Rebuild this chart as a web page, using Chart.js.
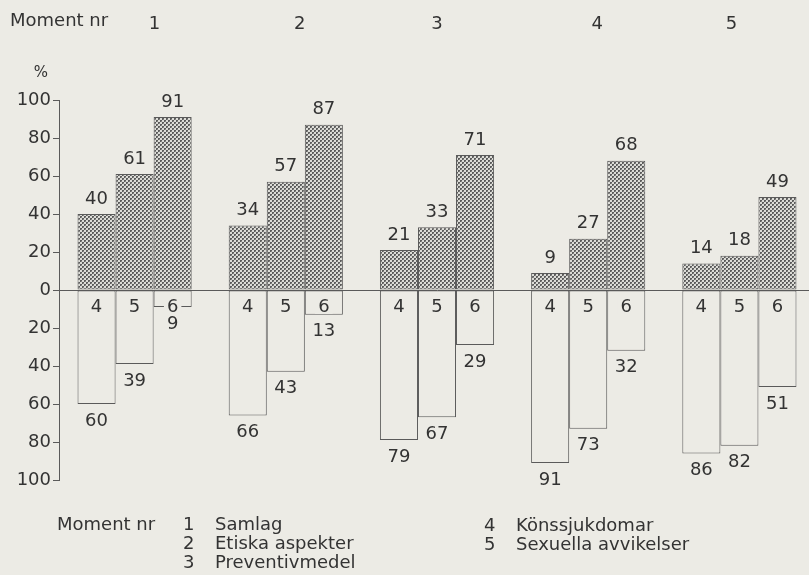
<!DOCTYPE html>
<html>
<head>
<meta charset="utf-8">
<script src="https://cdn.jsdelivr.net/npm/chart.js@4/dist/chart.umd.min.js"></script>
<style>
  html, body { margin: 0; padding: 0; background: #ecebe5; overflow: hidden; }
  #wrap { width: 815px; height: 575px; position: relative; }
</style>
</head>
<body>
<div id="wrap"><canvas id="chart"></canvas></div>
<script>
// Moment nr 1-5, grades 4, 5, 6
const moments = ["1", "2", "3", "4", "5"]
const grades = ["4", "5", "6"]
const yesGrade4 = [40, 34, 21, 9, 14]
const yesGrade5 = [61, 57, 33, 27, 18]
const yesGrade6 = [91, 87, 71, 68, 49]
const noGrade4 = [60, 66, 79, 91, 86]
const noGrade5 = [39, 43, 67, 73, 82]
const noGrade6 = [9, 13, 29, 32, 51]
const yTicks = [100, 80, 60, 40, 20, 0, 20, 40, 60, 80, 100]
const legendLeft = ["1  Samlag", "2  Etiska aspekter", "3  Preventivmedel"]
const legendRight = ["4  Könssjukdomar", "5  Sexuella avvikelser"]

const paper = "#ecebe5"
const ink = "#333333"
const line = "#5a5a5a"
const font = "'DejaVu Sans', Verdana, sans-serif"

// dotted screen fill like the print
function screen() {
    const c = document.createElement("canvas")
    c.width = 4; c.height = 4
    const g = c.getContext("2d")
    g.fillStyle = "#dcdcd7"
    g.fillRect(0, 0, 4, 4)
    g.fillStyle = "#5c5c5c"
    g.fillRect(0, 0, 2, 2)
    g.fillRect(2, 2, 2, 2)
    g.fillStyle = "#8a8a88"
    g.fillRect(1, 1, 1, 1)
    g.fillRect(3, 3, 1, 1)
    return g.createPattern(c, "repeat")
}
const dots = screen()

const yes = [yesGrade4, yesGrade5, yesGrade6]
const no = [noGrade4, noGrade5, noGrade6]
const datasets = []
grades.forEach((g, i) => {
    datasets.push({
        label: g, grade: g, side: "yes", stack: "g" + g,
        data: yes[i],
        backgroundColor: dots, borderColor: line, borderWidth: 1, borderSkipped: false
    })
    datasets.push({
        label: g, grade: g, side: "no", stack: "g" + g,
        data: no[i].map(v => -v),
        backgroundColor: paper, borderColor: line, borderWidth: 1, borderSkipped: false
    })
})

const textPlugin = {
    id: "texts",
    afterDatasetsDraw(chart) {
        const ctx = chart.ctx
        const xs = chart.scales.x
        const ys = chart.scales.y
        const zero = ys.getPixelForValue(0)
        ctx.save()
        ctx.font = "18px " + font
        ctx.fillStyle = ink
        ctx.textAlign = "center"
        ctx.textBaseline = "middle"
        chart.data.datasets.forEach((ds, di) => {
            const meta = chart.getDatasetMeta(di)
            meta.data.forEach((bar, i) => {
                const v = Math.abs(ds.data[i])
                if (ds.side === "yes") {
                    ctx.fillText(String(v), bar.x, bar.y - 15)
                } else {
                    ctx.fillText(String(v), bar.x, bar.y + 17)
                    // grade number just under the zero line
                    const w = ctx.measureText(ds.grade).width
                    ctx.fillStyle = paper
                    ctx.fillRect(bar.x - w / 2 - 3, zero + 8, w + 6, 16)
                    ctx.fillStyle = ink
                    ctx.fillText(ds.grade, bar.x, zero + 17)
                }
            })
        })
        // header
        ctx.textAlign = "left"
        ctx.fillText("Moment nr", 10, 21)
        const nudge = [20, 14, 0, 9, -8]
        ctx.textAlign = "center"
        moments.forEach((m, i) => ctx.fillText(m, xs.getPixelForValue(i) + nudge[i], 24))
        ctx.font = "15px " + font
        ctx.fillText("%", 41, 73)
        // legend
        ctx.font = "18px " + font
        ctx.textAlign = "left"
        ctx.fillText("Moment nr", 57, 525)
        legendLeft.forEach((t, i) => {
            const [n, ...rest] = t.split("  ")
            ctx.fillText(n, 183, 525 + i * 19)
            ctx.fillText(rest.join(" "), 215, 525 + i * 19)
        })
        legendRight.forEach((t, i) => {
            const [n, ...rest] = t.split("  ")
            ctx.fillText(n, 484, 526 + i * 19)
            ctx.fillText(rest.join(" "), 516, 526 + i * 19)
        })
        ctx.restore()
    }
}

const config = {
    type: "bar",
    data: { labels: moments, datasets: datasets },
    options: {
        responsive: true,
        maintainAspectRatio: false,
        animation: false,
        layout: { padding: { top: 100, bottom: 95, left: 0, right: 0 } },
        categoryPercentage: 0.755,
        barPercentage: 1,
        plugins: { legend: { display: false }, tooltip: { enabled: false } },
        scales: {
            x: { stacked: true, display: false },
            y: {
                stacked: true,
                min: -100, max: 100,
                afterFit(scale) { scale.width = 59 },
                border: { display: true, color: line, width: 1 },
                grid: {
                    drawOnChartArea: true,
                    color: c => c.tick && c.tick.value === 0 ? line : "rgba(0,0,0,0)",
                    tickColor: line,
                    tickLength: 6,
                    lineWidth: 1
                },
                ticks: {
                    stepSize: 10,
                    color: ink,
                    padding: 2,
                    font: { family: font, size: 18 },
                    callback: v => v % 20 === 0 ? String(yTicks[(100 - v) / 20]) : ""
                }
            }
        }
    },
    plugins: [textPlugin]
}

new Chart(document.getElementById("chart"), config)
</script>
</body>
</html>
